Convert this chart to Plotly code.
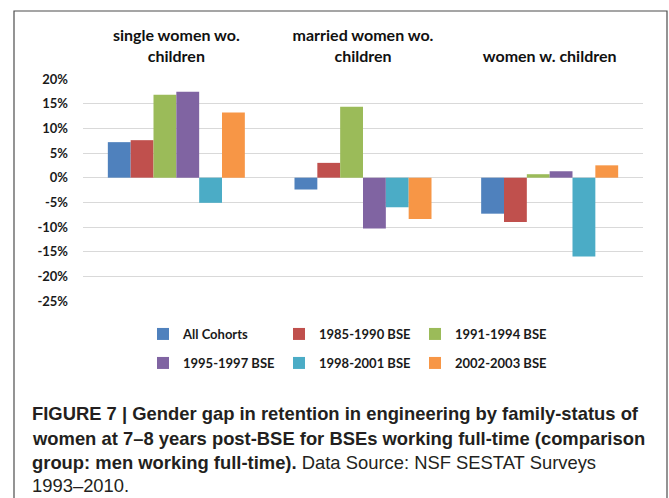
import plotly.graph_objects as go

categories = ["single women wo.<br>children", "married women wo.<br>children", "women w. children"]
series_names = ["All Cohorts", "1985-1990 BSE", "1991-1994 BSE", "1995-1997 BSE", "1998-2001 BSE", "2002-2003 BSE"]
all_cohorts = [7.2, -2.4, -7.3]
c1985_1990 = [7.6, 3.0, -9.0]
c1991_1994 = [16.8, 14.4, 0.7]
c1995_1997 = [17.4, -10.3, 1.3]
c1998_2001 = [-5.1, -6.0, -16.0]
c2002_2003 = [13.2, -8.4, 2.5]
tick_vals = [20, 15, 10, 5, 0, -5, -10, -15, -20, -25]
tick_text = ["20%", "15%", "10%", "5%", "0%", "-5%", "-10%", "-15%", "-20%", "-25%"]

series_values = [all_cohorts, c1985_1990, c1991_1994, c1995_1997, c1998_2001, c2002_2003]
colors = ["#4F81BD", "#C0504D", "#9BBB59", "#8064A2", "#4BACC6", "#F79646"]

W, H = 669, 498
L, R, T, B = 83, 26, 79, 197
PW, PH = W - L - R, H - T - B

def px_x(x):
    return (x - L) / PW

def px_y(y):
    return (H - B - y) / PH

fig = go.Figure()
for i, (name, vals, col) in enumerate(zip(series_names, series_values, colors)):
    fig.add_trace(go.Bar(
        x=categories, y=vals, name=name,
        marker=dict(color=col, line=dict(width=0)),
        legend="legend" if i < 3 else "legend2",
    ))

legend_font = dict(family="Lato", size=13, color="#1a1a1a", weight="bold")
leg_common = dict(orientation="h", x=px_x(347), xanchor="center", yanchor="middle",
                  font=legend_font, entrywidth=91, entrywidthmode="pixels",
                  bgcolor="rgba(0,0,0,0)", itemclick=False, traceorder="normal")
fig.update_layout(
    width=W, height=H,
    margin=dict(l=L, r=R, t=T, b=B, autoexpand=False),
    paper_bgcolor="white", plot_bgcolor="white",
    barmode="group", bargap=0.266, bargroupgap=0,
    font=dict(family="Lato", color="#1a1a1a"),
    xaxis=dict(side="top", showgrid=False, showline=False, ticks="",
               tickfont=dict(family="Lato", size=16, color="#111111", weight="bold"),
               ticklabelstandoff=13),
    yaxis=dict(range=[-25, 20], tickvals=tick_vals, ticktext=tick_text,
               showgrid=True, gridcolor="#D9D9D9", gridwidth=1, zeroline=False,
               showline=False, ticks="",
               tickfont=dict(family="Lato", size=13, color="#1a1a1a", weight="bold"),
               ticklabelstandoff=14),
    legend=dict(y=px_y(334), **leg_common),
    legend2=dict(y=px_y(363), **leg_common),
    showlegend=True,
)

# outer frame
fig.add_shape(type="rect", xref="paper", yref="paper",
              x0=px_x(14), x1=px_x(667), y0=px_y(520), y1=px_y(11),
              line=dict(color="#4d4d4d", width=1.2), fillcolor="rgba(0,0,0,0)", layer="below")

cap_font = dict(family="Liberation Sans", size=18.4, color="#231F20")
caption_lines = [
    "<b>FIGURE 7 | Gender gap in retention in engineering by family-status of</b>",
    "<b>women at 7–8 years post-BSE for BSEs working full-time (comparison</b>",
    "<b>group: men working full-time).</b> Data Source: NSF SESTAT Surveys",
    "1993–2010.",
]
caption_y = [413, 438, 462, 485]
for txt, yy in zip(caption_lines, caption_y):
    fig.add_annotation(text=txt, xref="paper", yref="paper", x=px_x(31), y=px_y(yy),
                       xanchor="left", yanchor="middle", showarrow=False, font=cap_font,
                       borderpad=0)

fig.write_html("out.html", config={"displayModeBar": False},
               post_script="document.body.style.margin='0';")
